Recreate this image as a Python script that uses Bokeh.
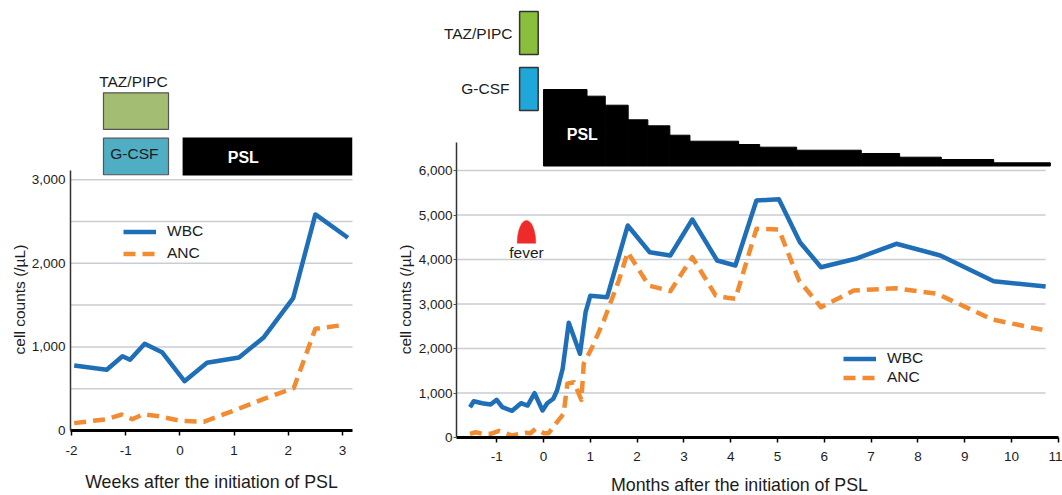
import numpy as np
from bokeh.core.properties import value
from bokeh.embed import file_html
from bokeh.layouts import row
from bokeh.models import FixedTicker, Legend, LegendItem, Range1d, NumeralTickFormatter
from bokeh.plotting import figure
from bokeh.resources import INLINE

# ---- Left panel: weeks
weeks_wbc = [-1.95, -1.35, -1.06, -0.92, -0.65, -0.33, 0.085, 0.5, 1.09, 1.55, 2.09, 2.5, 3.1]
wbc_w = [778, 726, 889, 846, 1037, 937, 590, 810, 873, 1116, 1583, 2585, 2306]
weeks_anc = [-1.95, -1.35, -1.08, -0.88, -0.67, -0.36, 0.01, 0.44, 1.0, 1.55, 2.1, 2.5, 3.05]
anc_w = [88, 135, 191, 135, 195, 167, 116, 104, 239, 379, 506, 1217, 1265]
week_ticks = [-2, -1, 0, 1, 2, 3]
week_count_ticks = [0, 1000, 2000, 3000]
week_grid = [500, 1000, 1500, 2000, 2500, 3000]

# ---- Right panel: months
months_wbc = [-1.57, -1.49, -1.31, -1.13, -1.0, -0.88, -0.67, -0.48, -0.34, -0.19, -0.02, 0.08, 0.21,
              0.29, 0.41, 0.54, 0.78, 0.90, 1.0, 1.36, 1.80, 2.27, 2.71, 3.18, 3.71, 4.10, 4.55, 5.03,
              5.48, 5.93, 6.67, 7.54, 8.48, 9.62, 10.73]
wbc_m = [681, 816, 771, 742, 847, 681, 600, 771, 719, 996, 607, 771, 870,
         1056, 1544, 2578, 1881, 2816, 3184, 3153, 4764, 4164, 4090, 4899, 3978, 3865, 5326, 5355,
         4389, 3827, 4016, 4353, 4090, 3512, 3393]
months_anc = [-1.57, -1.45, -1.31, -1.13, -0.95, -0.67, -0.38, -0.28, -0.17, 0.01, 0.11, 0.26, 0.43,
              0.51, 0.65, 0.81, 0.86, 1.04, 1.29, 1.61, 1.80, 2.25, 2.71, 3.18, 3.68, 3.93, 4.10, 4.55,
              5.03, 5.46, 5.93, 6.63, 7.52, 8.41, 9.59, 10.66]
anc_m = [83, 119, 83, 83, 150, 45, 106, 97, 195, 97, 97, 308, 532,
         1207, 1243, 847, 1656, 2029, 2629, 3528, 4164, 3416, 3288, 4052, 3191, 3139, 3117, 4690,
         4674, 3528, 2928, 3303, 3355, 3229, 2652, 2420]
month_ticks = [-1, 0, 1, 2, 3, 4, 5, 6, 7, 8, 9, 10, 11]
month_count_ticks = [0, 1000, 2000, 3000, 4000, 5000, 6000]
month_grid = [1000, 2000, 3000, 4000, 5000, 6000]
psl_edges = [0, 0.93, 1.32, 1.81, 2.23, 2.70, 3.13, 4.17, 4.62, 5.41, 6.79, 7.61, 8.50, 9.62, 10.83]
psl_tops = [7820, 7670, 7467, 7139, 7004, 6793, 6658, 6584, 6524, 6456, 6382, 6299, 6247, 6173]

BLUE, ORANGE = "#1f6fb8", "#f28c33"
GRID, INK = "#c9ced3", "#1c1c1c"
FONT = "Liberation Sans"
W_L, W_R, H = 384, 678, 495


def base(width, xr, yr, xbounds, xticks, yticks, ybound, tick_out, ystand, xstand):
    p = figure(width=width, height=H, output_backend="svg", toolbar_location=None,
               x_range=Range1d(*xr), y_range=Range1d(*yr),
               min_border_left=0, min_border_right=0, min_border_top=0, min_border_bottom=0)
    p.outline_line_color = None
    p.xgrid.visible = False
    p.ygrid.visible = False
    ax = p.xaxis[0]
    ax.fixed_location = 0
    ax.bounds = xbounds
    ax.ticker = FixedTicker(ticks=xticks)
    ax.major_label_overrides = {t: str(t) for t in xticks if t < 0}
    ax.axis_line_color = "black"
    ax.axis_line_width = 3
    ax.major_tick_line_color = "black"
    ax.major_tick_line_width = 1.5
    ax.major_tick_in = 0
    ax.major_tick_out = 5
    ax.minor_tick_line_color = None
    ax.major_label_text_font = FONT
    ax.major_label_text_font_size = "13.5px"
    ax.major_label_text_color = INK
    ax.major_label_standoff = xstand
    ay = p.yaxis[0]
    ay.fixed_location = xbounds[0]
    ay.ticker = FixedTicker(ticks=yticks)
    ay.bounds = (0, ybound)
    ay.formatter = NumeralTickFormatter(format="0,0")
    ay.axis_line_color = "#333333"
    ay.axis_line_width = 1.5
    ay.major_tick_line_color = "#555555"
    ay.major_tick_in = 0
    ay.major_tick_out = tick_out
    ay.minor_tick_line_color = None
    ay.major_label_text_font = FONT
    ay.major_label_text_font_size = "13.5px"
    ay.major_label_text_color = INK
    ay.major_label_standoff = ystand
    return p


def txt(p, x, y, s, size="15.5px", align="center", color=INK, style="normal", angle=0):
    p.text([x], [y], text=[s], text_font=value(FONT), text_font_size=value(size), angle=[angle],
           text_align=align, text_baseline="middle", text_color=color, text_font_style=style)


def series(p, xw, yw, xa, ya, x0, y0, spacing):
    wbc = p.line(xw, yw, line_color=BLUE, line_width=4.5, line_join="round")
    anc = p.line(xa, ya, line_color=ORANGE, line_width=4.5, line_dash="12 7", line_join="round")
    p.add_layout(Legend(items=[LegendItem(label="WBC", renderers=[wbc]), LegendItem(label="ANC", renderers=[anc])],
                        location=(x0, y0), orientation="vertical", margin=0, padding=0, spacing=spacing,
                        glyph_width=33, glyph_height=15, label_height=15, label_standoff=11,
                        label_text_font=FONT, label_text_font_size="15.5px", label_text_color=INK,
                        background_fill_alpha=0, border_line_alpha=0))


# ---- Left figure
xl = (-2.018, 3.185)
left = base(W_L, (-3.31, 3.775), (-778, 5145), xl, week_ticks, week_count_ticks, 3111, 0, 5, 11)
left.segment(x0=[xl[0]] * len(week_grid), x1=[xl[1]] * len(week_grid), y0=week_grid, y1=week_grid,
             line_color=GRID, line_width=1.5, level="underlay")
left.quad(left=[-1.41], right=[-0.21], bottom=[3602], top=[4040], fill_color="#a3bd72", line_color="#555555", line_width=1.2)
left.quad(left=[-1.41], right=[-0.21], bottom=[3060], top=[3498], fill_color="#4fadc4", line_color="#555555", line_width=1.2)
left.quad(left=[0.05], right=[3.18], bottom=[3051], top=[3506], fill_color="black", line_color=None)
txt(left, -0.856, 4176, "TAZ/PIPC")
txt(left, -0.84, 3315, "G-CSF")
txt(left, 1.17, 3267, "PSL", size="16px", color="white", style="bold")
series(left, weeks_wbc, wbc_w, weeks_anc, anc_w, 123, 233, 4)
txt(left, -2.959, 1567, "cell counts (/µL)", angle=np.pi / 2)
txt(left, 0.583, -622, "Weeks after the initiation of PSL", size="17.8px")

# ---- Right figure
xr = (-1.859, 11.004)
right = base(W_R, (-3.397, 11.09), (-1303, 9820), xr, month_ticks, month_count_ticks, 6636, 3, 1, 9)
right.segment(x0=[xr[0]] * len(month_grid), x1=[10.73] * len(month_grid), y0=month_grid, y1=month_grid,
              line_color=GRID, line_width=1.5, level="underlay")
right.quad(left=[-0.51], right=[-0.113], bottom=[8607], top=[9573], fill_color="#8abf3e", line_color="#333333", line_width=1.5)
right.quad(left=[-0.51], right=[-0.113], bottom=[7348], top=[8315], fill_color="#1ea7d8", line_color="#333333", line_width=1.5)
right.quad(left=psl_edges[:-1], right=psl_edges[1:], bottom=[6101] * len(psl_tops), top=psl_tops,
           fill_color="black", line_color="black", line_width=1)
txt(right, -0.662, 9079, "TAZ/PIPC", align="right")
txt(right, -0.726, 7843, "G-CSF", align="right")
txt(right, 0.83, 6810, "PSL", size="16px", color="white", style="bold")
t = np.linspace(0, np.pi, 40)
right.patch(-0.363 + 0.197 * np.cos(t), 4366 + 510 * np.sin(t),
            fill_color="#ee2a2a", line_color="#ee2a2a", line_width=0.5)
txt(right, -0.363, 4157, "fever")
series(right, months_wbc, wbc_m, months_anc, anc_m, 459, 109, 1)
txt(right, -2.949, 3101, "cell counts (/µL)", angle=np.pi / 2)
txt(right, 4.188, -1056, "Months after the initiation of PSL", size="17.8px")

layout = row(left, right, spacing=0)
open("out.html", "w").write(file_html(layout, INLINE))
